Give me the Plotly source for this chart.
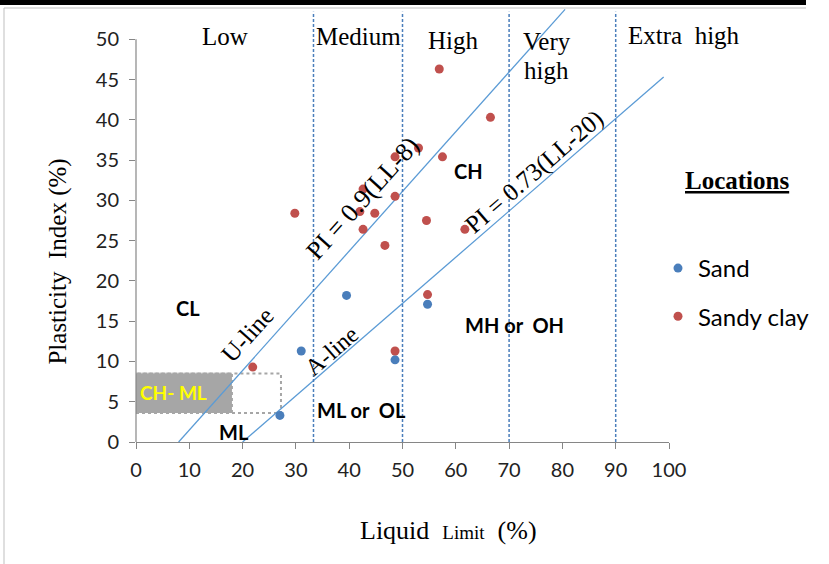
import plotly.graph_objects as go

# ---------------- data ----------------
sand_ll = [27.0, 31.0, 39.5, 48.6, 54.7]
sand_pi = [3.3, 11.3, 18.2, 10.2, 17.1]

clay_ll = [21.9, 29.8, 42.0, 42.6, 42.6, 44.8, 46.7, 48.6, 48.6, 48.6, 53.0, 54.5, 54.7, 56.9, 57.5, 61.7, 66.5]
clay_pi = [9.3, 28.4, 28.6, 31.4, 26.4, 28.4, 24.4, 35.4, 30.5, 11.3, 36.5, 27.5, 18.3, 46.3, 35.4, 26.4, 40.3]

uline_ll = [8, 80.5]
uline_pi = [0, 53.7]
aline_ll = [20, 99]
aline_pi = [0, 45.3]

boundaries = [33.3, 50, 70, 90]
zone_names = ["Low", "Medium", "High", "Very", "high"]
zone_x = [16.7, 41.8, 59.5, 77.1, 77.1]
zone_y = [50.4, 50.4, 49.8, 49.7, 46.1]

x_ticks = list(range(0, 101, 10))
y_ticks = list(range(0, 51, 5))

# ---------------- layout helpers ----------------
W, H = 829, 564
L, R, T, B = 136, 160, 7, 122
PW, PH = W - L - R, H - T - B


def px(xp):
    return (xp - L) / PW


def py(yp):
    return (H - B - yp) / PH


SERIF = "Liberation Serif"
SANS = "Lato"
BLUE_LINE = "#5b9bd5"
DASH_BLUE = "#4a7ebb"

fig = go.Figure()

# U-line and A-line
fig.add_trace(go.Scatter(x=uline_ll, y=uline_pi, mode="lines",
                         line=dict(color=BLUE_LINE, width=1.3), showlegend=False, hoverinfo="skip"))
fig.add_trace(go.Scatter(x=aline_ll, y=aline_pi, mode="lines",
                         line=dict(color=BLUE_LINE, width=1.3), showlegend=False, hoverinfo="skip"))

# boundaries
for b in boundaries:
    fig.add_trace(go.Scatter(x=[b, b], y=[0, 53.4], mode="lines",
                             line=dict(color=DASH_BLUE, width=1.5, dash="3px,2px"),
                             showlegend=False, hoverinfo="skip"))

# data
fig.add_trace(go.Scatter(x=sand_ll, y=sand_pi, mode="markers", name="Sand", legendgroup="a",
                         marker=dict(color="#4a7ebb", size=9)))
fig.add_trace(go.Scatter(x=clay_ll, y=clay_pi, mode="markers", name="Sandy clay", legendgroup="b",
                         marker=dict(color="#c0504d", size=9)))

shapes = []
# CH-ML box
shapes.append(dict(type="rect", xref="x", yref="y", x0=0, x1=27.2, y0=3.6, y1=8.5,
                   line=dict(color="#a6a6a6", width=2, dash="dot"), fillcolor="rgba(0,0,0,0)", layer="below"))
shapes.append(dict(type="rect", xref="x", yref="y", x0=0, x1=18, y0=3.6, y1=8.5,
                   line=dict(color="#a6a6a6", width=2, dash="dot"), fillcolor="#a6a6a6", layer="below"))
# y axis line up to 50
shapes.append(dict(type="line", xref="paper", yref="y", x0=0, x1=0, y0=0, y1=50,
                   line=dict(color="#868686", width=1.2)))
# outer frame decorations
shapes.append(dict(type="rect", xref="paper", yref="paper", x0=px(0), x1=px(806), y0=py(0), y1=py(5),
                   line=dict(width=0), fillcolor="black"))
shapes.append(dict(type="line", xref="paper", yref="paper", x0=px(4), x1=px(806), y0=py(8), y1=py(8),
                   line=dict(color="#bfbfbf", width=1)))
shapes.append(dict(type="line", xref="paper", yref="paper", x0=px(4), x1=px(4), y0=py(8), y1=py(564),
                   line=dict(color="#bfbfbf", width=1)))

ann = []
for t, x, y in zip(zone_names, zone_x, zone_y):
    ann.append(dict(text=t, x=x, y=y, xref="x", yref="y", showarrow=False,
                    xanchor="center", yanchor="middle",
                    font=dict(family=SERIF, size=25, color="black")))
ann.append(dict(text="Extra\u00a0 high", x=px(684), y=py(36), xref="paper", yref="paper",
                showarrow=False, xanchor="center", yanchor="middle",
                font=dict(family=SERIF, size=25, color="black")))

rot = [
    dict(text="PI = 0.9(LL-8)", x=42.5, y=30.2, textangle=-48, size=26),
    dict(text="PI = 0.73(LL-20)", x=74.7, y=33.5, textangle=-41, size=25),
    dict(text="U-line", x=20.9, y=13.4, textangle=-48, size=25),
    dict(text="A-line", x=36.7, y=11.3, textangle=-41, size=24),
]
for a in rot:
    s = a.pop("size")
    a.update(xref="x", yref="y", showarrow=False, xanchor="center", yanchor="middle",
             font=dict(family=SERIF, size=s, color="black"))
    ann.append(a)

bold_labels = [("CL", 9.8, 16.6), ("CH", 62.3, 33.6), ("MH or\u00a0 OH", 71.1, 14.5),
               ("ML or\u00a0 OL", 42.3, 4.0), ("ML", 18.3, 1.3)]
for t, x, y in bold_labels:
    ann.append(dict(text="<b>%s</b>" % t, x=x, y=y, xref="x", yref="y", showarrow=False,
                    xanchor="center", yanchor="middle",
                    font=dict(family=SANS, size=20, color="black")))
ann.append(dict(text="<b>CH- ML</b>", x=7.0, y=6.2, xref="x", yref="y", showarrow=False,
                xanchor="center", yanchor="middle",
                font=dict(family=SANS, size=19, color="#ffff00")))

# axis titles
ann.append(dict(text="Plasticity\u00a0 Index (%)", x=px(58), y=22.4, xref="paper", yref="y",
                xanchor="center", yanchor="middle",
                textangle=-90, showarrow=False, font=dict(family=SERIF, size=25, color="black")))
ann.append(dict(text="Liquid\u00a0 <span style='font-size:19px'>Limit</span>\u00a0 (%)", x=58.6, y=py(530),
                xref="x", yref="paper", xanchor="center", yanchor="middle",
                showarrow=False, font=dict(family=SERIF, size=26, color="black")))
ann.append(dict(text="<b><u>Locations</u></b>", x=px(737), y=py(180), xref="paper", yref="paper",
                xanchor="center", yanchor="middle",
                showarrow=False, font=dict(family=SERIF, size=25, color="black")))

fig.update_layout(
    width=W, height=H,
    margin=dict(l=L, r=R, t=T, b=B),
    paper_bgcolor="white", plot_bgcolor="white",
    shapes=shapes, annotations=ann,
    showlegend=True,
    legend=dict(x=px(658), y=py(246), xanchor="left", yanchor="top",
                font=dict(family=SANS, size=24, color="black"),
                traceorder="grouped", tracegroupgap=14, bgcolor="rgba(0,0,0,0)"),
    xaxis=dict(range=[0, 100], tickvals=x_ticks, showgrid=False, zeroline=False,
               showline=True, linecolor="#868686", linewidth=1.2,
               ticks="outside", ticklen=6, tickcolor="#868686",
               tickfont=dict(family=SANS, size=20, color="#222"), ticklabelstandoff=4),
    yaxis=dict(range=[0, 54], tickvals=y_ticks, showgrid=False, zeroline=False,
               showline=False, ticks="outside", ticklen=6, tickcolor="#868686",
               tickfont=dict(family=SANS, size=20, color="#222"), ticklabelstandoff=6),
)

fig.write_html("out.html", config={"displayModeBar": False},
               post_script="document.body.style.margin='0';")
